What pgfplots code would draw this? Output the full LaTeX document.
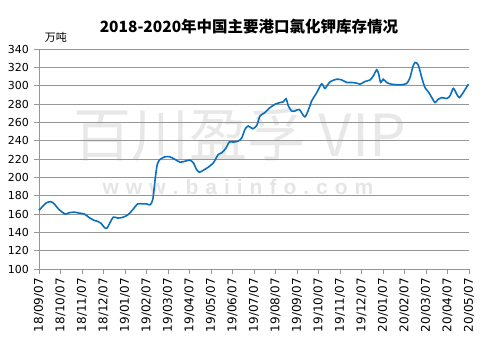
\documentclass[border=0pt]{standalone}
\usepackage{pgfplots}
\pgfplotsset{compat=1.18}
\usepackage{fontspec}
\setmainfont{DejaVu Sans}
\newfontfamily\cjk{Noto Sans CJK SC}
\newfontfamily\wm{Liberation Sans}
\definecolor{lineblue}{RGB}{10,112,190}
\definecolor{gridgray}{RGB}{150,150,150}
\begin{document}
\begin{tikzpicture}[x=1pt,y=1pt]
\path[use as bounding box] (0,0) rectangle (485,364);
% watermark
\node[text=gray!18, font=\cjk\fontsize{58}{58}\selectfont] at (240,229) {百川盈孚 VIP};
\node[text=gray!20, font=\wm\bfseries\fontsize{21}{21}\selectfont] at (238,177) {w\,\,w\,\,w\,\,.\,\,b\,\,a\,\,i\,\,i\,\,n\,\,f\,\,o\,\,.\,\,c\,\,o\,\,m};
\begin{axis}[
  at={(39pt,95pt)}, anchor=origin,
  scale only axis, width=430pt, height=220pt,
  xmin=0, xmax=20, ymin=100, ymax=340,
  ytick={100,120,...,340},
  xtick={0,...,20},
  xticklabels={18/09/07,18/10/07,18/11/07,18/12/07,19/01/07,19/02/07,19/03/07,19/04/07,19/05/07,19/06/07,19/07/07,19/08/07,19/09/07,19/10/07,19/11/07,19/12/07,20/01/07,20/02/07,20/03/07,20/04/07,20/05/07},
  x tick label style={rotate=90, anchor=east, font=\fontsize{12}{12}\selectfont, inner sep=1pt, xshift=0pt},
  y tick label style={font=\fontsize{11}{11}\selectfont, inner sep=1pt},
  /pgf/number format/assume math mode=true,
  axis x line*=bottom, axis y line*=left,
  axis line style={gridgray, line width=0.8pt, -},
  ymajorgrids, major grid style={gridgray, line width=0.8pt},
  tick style={gridgray, line width=0.6pt},
  tick align=outside, major tick length=5pt,
  xticklabel shift=3pt, yticklabel shift=4pt,
  clip=false,
]
\addplot[lineblue, line width=1.6pt, smooth, tension=0.45] coordinates {
(0.00,164) (0.33,172) (0.56,173.4) (0.71,171) (0.94,164.7) (1.22,160) (1.41,161.4) (1.64,162) (1.87,161) (2.11,160)
(2.34,156) (2.57,153) (2.73,152) (2.88,150) (3.04,145.3) (3.16,144.6) (3.29,150) (3.46,156.6) (3.66,155.6) (3.89,156.3)
(4.13,159) (4.36,164.7) (4.59,171) (4.82,171) (5.01,171) (5.16,170) (5.29,175.6) (5.40,197.5) (5.50,214) (5.63,219.5)
(5.86,222.4) (6.09,222.4) (6.33,219.5) (6.56,216.5) (6.79,217.6) (7.02,218.7) (7.18,215.8) (7.33,208.5) (7.46,205.6) (7.64,207.7)
(7.87,211) (8.11,215.8) (8.34,225) (8.50,226.8) (8.70,232) (8.85,238.5) (9.04,238.5) (9.27,239.6) (9.43,243) (9.58,252.3)
(9.73,256) (9.94,253) (10.13,256.7) (10.28,267) (10.51,270.6) (10.74,276) (10.98,279.7) (11.21,281.6) (11.36,282.3) (11.49,285.8)
(11.60,277.8) (11.75,272.4) (11.91,272.4) (12.11,274) (12.37,266) (12.60,278) (12.68,283.3) (12.92,292.5) (13.15,302) (13.30,297)
(13.53,304) (13.85,307) (14.08,306.3) (14.31,303.5) (14.54,303.5) (14.78,302.7) (14.93,301.6) (15.16,304.5) (15.40,306.3) (15.55,310.7)
(15.71,317.3) (15.80,312.6) (15.89,303.5) (16.01,307) (16.17,303.5) (16.40,301.6) (16.79,300.9) (17.10,302.4) (17.26,309) (17.38,320)
(17.49,325.4) (17.64,322.5) (17.80,309) (17.95,298) (18.11,293.2) (18.27,287) (18.42,281.6) (18.57,285.2) (18.73,287) (18.96,286)
(19.12,289) (19.27,297) (19.43,290.7) (19.55,287) (19.73,292.5) (19.97,301.6)
};
\end{axis}
\node[font=\cjk\bfseries\fontsize{15.5}{15.5}\selectfont] at (249,337) {2018-2020年中国主要港口氯化钾库存情况};
\node[font=\cjk\fontsize{11}{11}\selectfont] at (56,327) {万吨};
\end{tikzpicture}
\end{document}
